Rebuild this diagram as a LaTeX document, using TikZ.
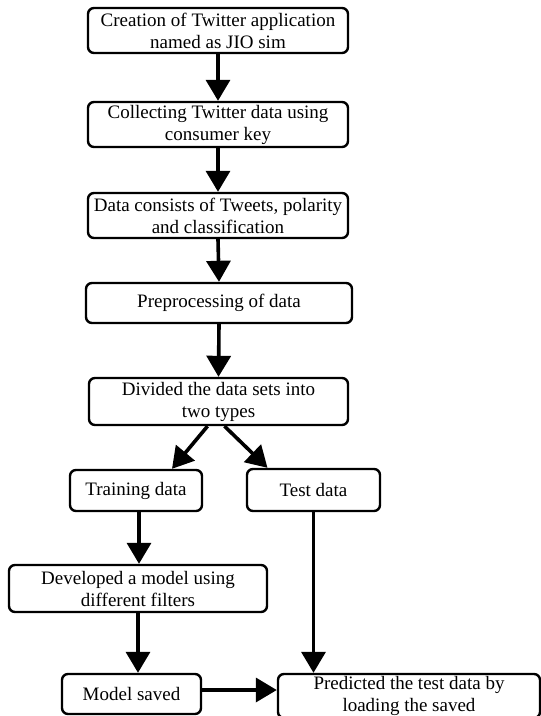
\documentclass[tikz,border=0pt]{standalone}
\usepackage{fontspec}
\setmainfont{Liberation Serif}
\usetikzlibrary{arrows.meta}
\begin{document}
\begin{tikzpicture}[x=1pt,y=-1pt,
  box/.style={draw=black, line width=2.4pt, rounded corners=6pt, fill=white,
    align=center, inner sep=0pt, font=\fontsize{19}{22}\selectfont},
  arr/.style={line width=3.6pt, -{Triangle[width=24pt,length=21pt]}}]
\useasboundingbox[fill=white] (0,0) rectangle (541,716);
\node[box, minimum width=260pt, minimum height=45pt] (b1) at (218,30.5) {Creation of Twitter application\\named as JIO sim};
\node[box, minimum width=260pt, minimum height=45pt] (b2) at (218,124.5) {Collecting Twitter data using\\consumer key};
\node[box, minimum width=260pt, minimum height=45pt] (b3) at (218,215.5) {Data consists of Tweets, polarity\\and classification};
\node[box, minimum width=266pt, minimum height=40pt] (b4) at (219,303) {Preprocessing of data};
\node[box, minimum width=259pt, minimum height=47pt] (b5) at (218.5,401.5) {Divided the data sets into\\two types};
\node[box, minimum width=132pt, minimum height=41pt] (train) at (136,490.5) {Training data};
\node[box, minimum width=133pt, minimum height=42pt] (test) at (313.5,490) {Test data};
\node[box, minimum width=258pt, minimum height=47pt] (dev) at (138,588.5) {Developed a model using\\different filters};
\node[box, minimum width=139pt, minimum height=40pt] (model) at (131.5,694) {Model saved};
\node[box, minimum width=262pt, minimum height=44pt] (pred) at (409,696) {Predicted the test data by\\loading the saved};
\draw[arr] (b1.south) -- (b2.north);
\draw[arr] (b2.south) -- (b3.north);
\draw[arr] (b3.south) -- (b4.north);
\draw[arr] (b4.south) -- (b5.north);
\draw[arr] ([xshift=-11pt]b5.south) -- ([xshift=36pt]train.north);
\draw[arr] ([xshift=6pt]b5.south) -- ([xshift=-46pt]test.north);
\draw[arr] ([xshift=3pt]train.south) -- ([xshift=3pt]train.south |- dev.north);
\draw[arr] (dev.south) -- (dev.south |- model.north);
\draw[arr] (test.south) -- (test.south |- pred.north);
\draw[arr] ([yshift=4pt]model.east) -- ([yshift=4pt]model.east -| pred.west);
\end{tikzpicture}
\end{document}
